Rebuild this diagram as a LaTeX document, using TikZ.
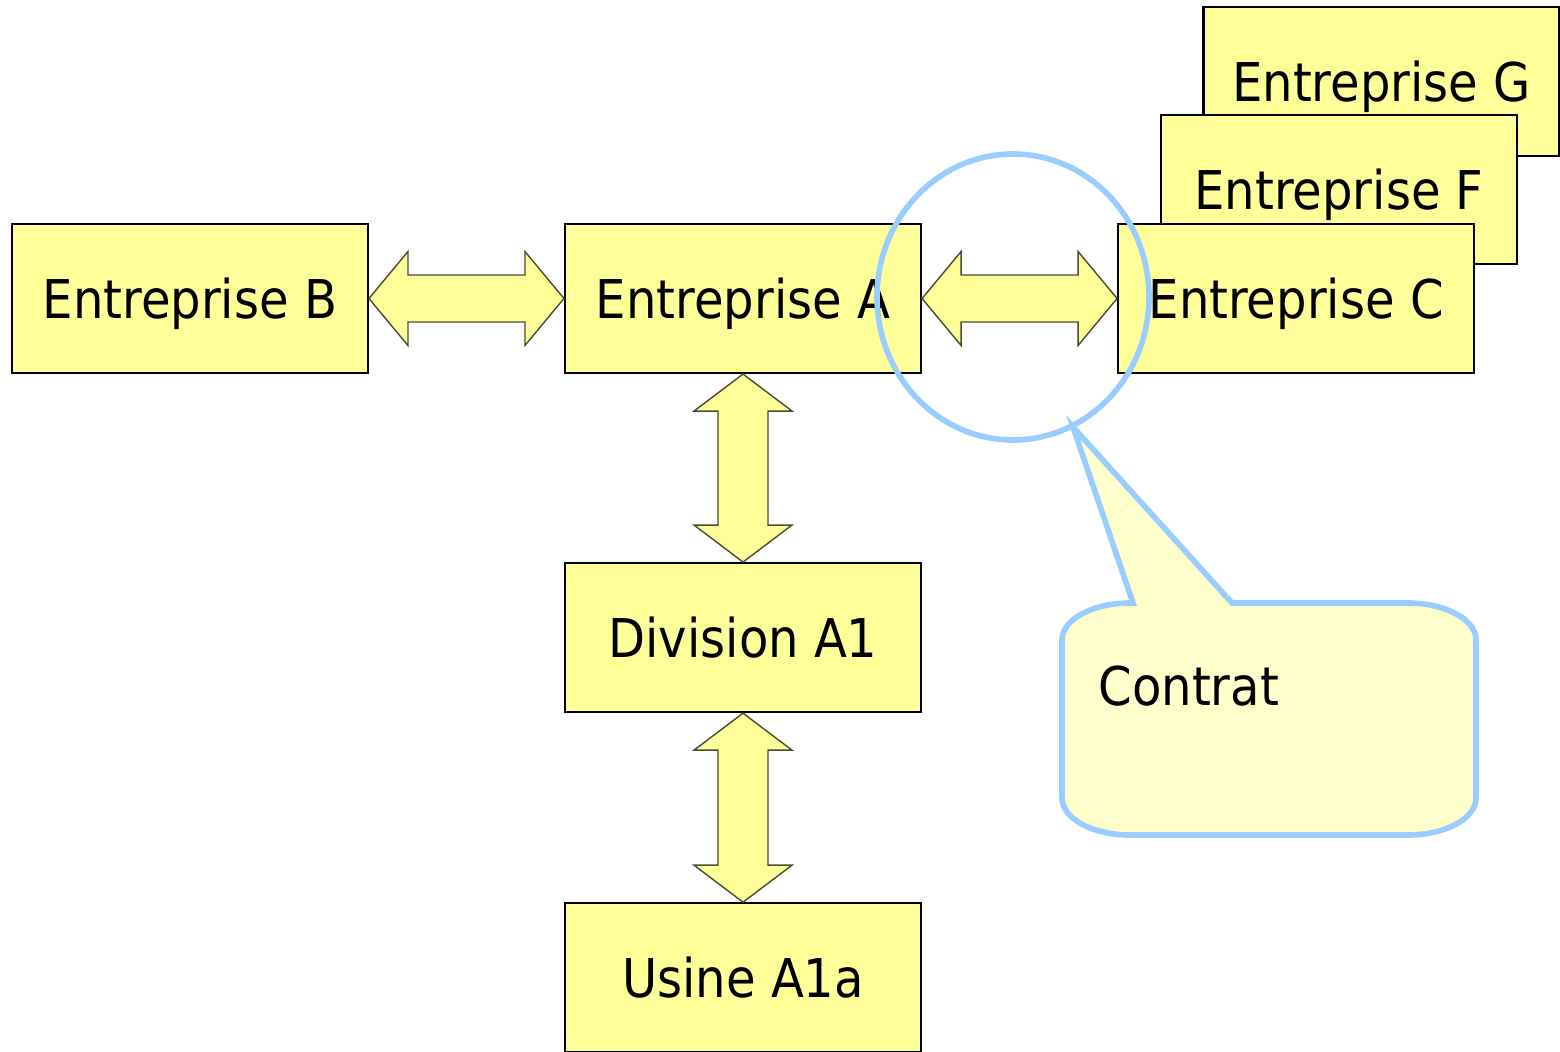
\documentclass[tikz,border=0pt]{standalone}
\usepackage{fontspec}
\setmainfont{DejaVu Sans Condensed}
\usepackage{tikz}
\usetikzlibrary{positioning,calc,shapes.geometric}
\definecolor{boxyellow}{HTML}{FFFF99}
\definecolor{noteyellow}{HTML}{FFFFCC}
\definecolor{noteblue}{HTML}{99CCFF}

% double arrows between two anchors
\newcommand{\hdbl}[2]{\draw[dbl] (#1) -- ++(0.39,0.47) -- ++(0,-0.235) -- ($(#2)+(-0.39,0.235)$) -- ++(0,0.235) -- (#2) -- ++(-0.39,-0.47) -- ++(0,0.235) -- ($(#1)+(0.39,-0.235)$) -- ++(0,-0.235) -- cycle;}
\newcommand{\vdbl}[2]{\draw[dbl] (#1) -- ++(0.49,-0.37) -- ++(-0.24,0) -- ($(#2)+(0.25,0.37)$) -- ++(0.24,0) -- (#2) -- ++(-0.49,0.37) -- ++(0.24,0) -- ($(#1)+(-0.25,-0.37)$) -- ++(-0.24,0) -- cycle;}

\begin{document}
\begin{tikzpicture}[box/.style={rectangle, draw, fill=boxyellow, line width=0.6pt, minimum width=3.56cm, minimum height=1.49cm, inner sep=0pt, font=\fontsize{15.2}{18}\selectfont, text height=11.1pt, text depth=0pt}, dbl/.style={draw=black!60!olive, fill=boxyellow, line width=0.4pt}, note/.style={draw=noteblue, line width=1.6pt}]
  \useasboundingbox (0,0) rectangle (15.6,-10.51);

  \node[box] (a) at (7.43,-2.985) {Entreprise A};
  \node[box, left=1.95cm of a] (b) {Entreprise B};
  \node[box] (g) at ($(a)+(6.385,2.17)$) {Entreprise G};
  \node[box] (f) at ($(a)+(5.96,1.09)$) {Entreprise F};
  \node[box, right=1.95cm of a] (c) {Entreprise C};
  \node[box, below=1.88cm of a] (div) {Division A1};
  \node[box, below=1.89cm of div] (usine) {Usine A1a};

  \hdbl{b.east}{a.west}
  \hdbl{a.east}{c.west}
  \vdbl{a.south}{div.north}
  \vdbl{div.south}{usine.north}

  % contrat
  \node[note, ellipse, minimum width=2.72cm, minimum height=2.86cm, inner sep=0pt] (loupe) at (10.13,-2.97) {};
  \coordinate (pointe) at (10.73,-4.27);
  \draw[note, fill=noteyellow] (11.33,-6.03) -- (pointe) -- (12.32,-6.03) -- (14.08,-6.03)
    arc[start angle=90, end angle=0, x radius=0.68, y radius=0.37] -- (14.76,-7.98)
    arc[start angle=0, end angle=-90, x radius=0.68, y radius=0.37] -- (11.30,-8.35)
    arc[start angle=-90, end angle=-180, x radius=0.68, y radius=0.37] -- (10.62,-6.40)
    arc[start angle=180, end angle=90, x radius=0.68, y radius=0.37] -- cycle;
  \node[anchor=base west, inner sep=0pt, font=\fontsize{15.2}{18}\selectfont] (contrat) at (10.98,-7.05) {Contrat};
\end{tikzpicture}
\end{document}
